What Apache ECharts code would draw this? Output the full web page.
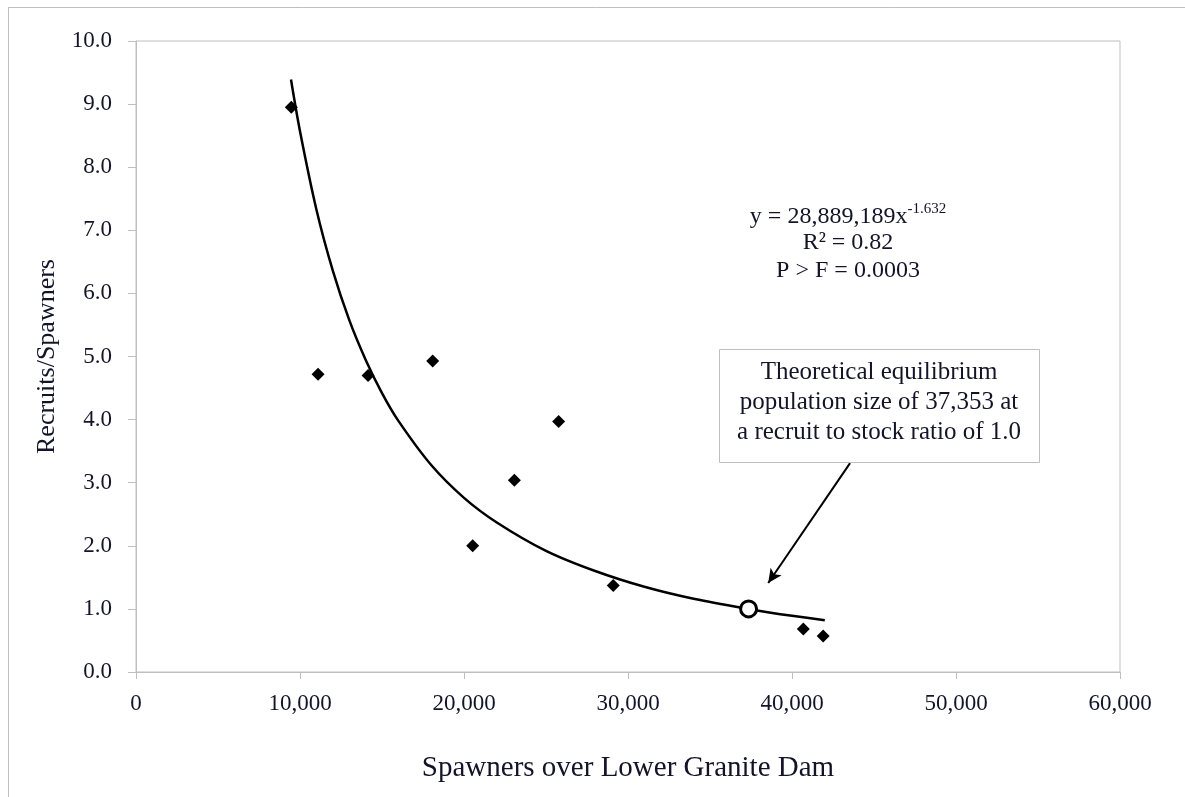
<!DOCTYPE html>
<html>
<head>
<meta charset="utf-8">
<title>Recruits per spawner vs spawners over Lower Granite Dam</title>
<script src="https://cdn.jsdelivr.net/npm/echarts@6/dist/echarts.min.js"></script>
<style>
  html, body { margin: 0; padding: 0; background: #fff; }
  #main { width: 1185px; height: 797px; }
</style>
</head>
<body>
<div id="main"></div>
<script>
// observed spawners / recruits-per-spawner pairs
const spawners = [9470, 11100, 14150, 18090, 20530, 23070, 25770, 29100, 40690, 41900]
const recruitsPerSpawner = [8.95, 4.72, 4.70, 4.93, 2.00, 3.04, 3.97, 1.37, 0.68, 0.57]

// fitted power curve
const fitX = [9450, 10000, 11000, 12000, 13000, 14000, 15000, 16000, 18000, 20000, 22000, 25000, 28000, 31000, 34000, 37353, 40000, 42000]
const fitY = [9.39, 8.57, 7.33, 6.36, 5.58, 4.95, 4.42, 3.98, 3.28, 2.76, 2.37, 1.92, 1.60, 1.35, 1.16, 1.00, 0.89, 0.82]

// equilibrium point (R/S = 1.0)
const equilibrium = [37353, 1.0]

const xTicks = [0, 10000, 20000, 30000, 40000, 50000, 60000]
const yTicks = [0, 1, 2, 3, 4, 5, 6, 7, 8, 9, 10]

const serif = '"Liberation Serif", "DejaVu Serif", serif'
const textColor = '#141428'
const axisGray = '#bfbfbf'

let scatterData = []
for (let i = 0; i < spawners.length; i++) {
    scatterData.push([spawners[i], recruitsPerSpawner[i]])
}
let fitData = []
for (let i = 0; i < fitX.length; i++) {
    fitData.push([fitX[i], fitY[i]])
}

let option = {
    animation: false,
    backgroundColor: '#fff',
    grid: {
        left: 136,
        top: 41,
        right: 65,
        bottom: 125,
        show: true,
        borderColor: axisGray,
        borderWidth: 1,
    },
    xAxis: {
        type: 'value',
        min: xTicks[0],
        max: xTicks[xTicks.length - 1],
        interval: 10000,
        name: 'Spawners over Lower Granite Dam',
        nameLocation: 'middle',
        nameGap: 82,
        nameTextStyle: { fontFamily: serif, fontSize: 29, color: textColor },
        axisLine: { lineStyle: { color: axisGray } },
        axisTick: { show: true, length: 7, lineStyle: { color: axisGray } },
        splitLine: { show: false },
        axisLabel: {
            margin: 20,
            fontFamily: serif,
            fontSize: 23,
            color: textColor,
            formatter: (v) => v.toLocaleString('en-US'),
        },
    },
    yAxis: {
        type: 'value',
        min: yTicks[0],
        max: yTicks[yTicks.length - 1],
        interval: 1,
        name: 'Recruits/Spawners',
        nameLocation: 'middle',
        nameGap: 76,
        nameTextStyle: { fontFamily: serif, fontSize: 26, color: textColor },
        axisLine: { show: true, lineStyle: { color: axisGray } },
        axisTick: { show: true, length: 8, lineStyle: { color: axisGray } },
        splitLine: { show: false },
        axisLabel: {
            margin: 24,
            fontFamily: serif,
            fontSize: 23,
            color: textColor,
            formatter: (v) => v.toFixed(1),
        },
    },
    series: [
        {
            name: 'fit',
            type: 'line',
            data: fitData,
            smooth: 0.3,
            showSymbol: false,
            symbol: 'none',
            lineStyle: { color: '#000', width: 2.5 },
            z: 2,
            markLine: {
                silent: true,
                symbol: ['none', 'arrow'],
                symbolSize: [10, 14],
                label: { show: false },
                lineStyle: { color: '#000', width: 2, type: 'solid' },
                data: [[{ coord: [43540, 3.31] }, { coord: [38550, 1.41] }]],
            },
        },
        {
            name: 'observed',
            type: 'scatter',
            data: scatterData,
            symbol: 'diamond',
            symbolSize: 13,
            itemStyle: { color: '#000', opacity: 1 },
            z: 3,
        },
        {
            name: 'equilibrium',
            type: 'scatter',
            data: [equilibrium],
            symbol: 'circle',
            symbolSize: 16,
            itemStyle: { color: '#fff', borderColor: '#000', borderWidth: 3, opacity: 1 },
            z: 4,
        },
    ],
    graphic: [
        // outer frame (top and left edges visible)
        { type: 'line', shape: { x1: 8, y1: 7.5, x2: 1185, y2: 7.5 }, style: { stroke: axisGray, lineWidth: 1 } },
        { type: 'line', shape: { x1: 8.5, y1: 7, x2: 8.5, y2: 797 }, style: { stroke: axisGray, lineWidth: 1 } },
        // regression text
        {
            type: 'text',
            x: 848,
            y: 215,
            style: {
                text: '{b|y = 28,889,189x}{s|-1.632}',
                align: 'center',
                verticalAlign: 'middle',
                rich: {
                    b: { fontFamily: serif, fontSize: 24, fill: textColor, verticalAlign: 'bottom' },
                    s: { fontFamily: serif, fontSize: 15, fill: textColor, verticalAlign: 'top', padding: [0, 0, 12, 0] },
                },
            },
        },
        {
            type: 'text',
            x: 848,
            y: 257,
            style: {
                text: 'R² = 0.82\nP > F = 0.0003',
                fontFamily: serif,
                fontSize: 24,
                lineHeight: 28,
                fill: textColor,
                align: 'center',
                verticalAlign: 'middle',
            },
        },
        // annotation box
        {
            type: 'rect',
            shape: { x: 719.5, y: 349.5, width: 320, height: 113 },
            style: { fill: '#fff', stroke: axisGray, lineWidth: 1 },
            z: 10,
        },
        {
            type: 'text',
            x: 879,
            y: 402,
            z: 11,
            style: {
                text: 'Theoretical equilibrium\npopulation size of 37,353 at\na recruit to stock ratio of 1.0',
                fontFamily: serif,
                fontSize: 25,
                lineHeight: 30,
                fill: textColor,
                align: 'center',
                verticalAlign: 'middle',
            },
        },
    ],
}

let myChart = echarts.init(document.getElementById('main'))
myChart.setOption(option)
</script>
</body>
</html>
